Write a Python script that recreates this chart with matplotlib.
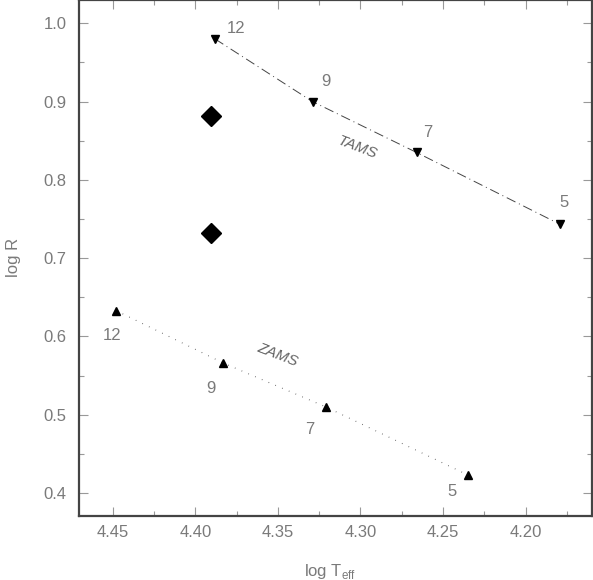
import numpy as np
import matplotlib.pyplot as plt
from matplotlib.ticker import MultipleLocator

plt.rcParams['font.family'] = ['Liberation Sans', 'DejaVu Sans']
plt.rcParams['mathtext.fontset'] = 'custom'
plt.rcParams['mathtext.rm'] = 'Liberation Sans'

# ZAMS / TAMS (массы в солнечных)
masses = ["12", "9", "7", "5"]
zams_logT = [4.448, 4.383, 4.321, 4.235]
zams_logR = [0.633, 0.566, 0.510, 0.423]
tams_logT = [4.388, 4.329, 4.266, 4.179]
tams_logR = [0.980, 0.900, 0.835, 0.743]

# наблюдаемые точки
obs_logT = [4.3905, 4.3905]
obs_logR = [0.881, 0.732]

# сдвиги подписей масс, в пикселях
tams_off = [(21, 10), (13, 20), (11, 20), (4, 22)]
zams_off = [(-4, -25), (-12, -25), (-16, -23), (-16, -17)]

gray = "#7a7a7a"

fig = plt.figure(figsize=(5.93, 5.80), dpi=100)
ax = fig.add_axes([0.1332, 0.1109, 0.8646, 0.8891])

ax.plot(tams_logT, tams_logR, color="#444444", lw=0.7, ls=(0, (10, 4, 1, 4)))
ax.plot(tams_logT, tams_logR, "v", color="black", ms=6)
ax.plot(zams_logT, zams_logR, color="#444444", lw=0.8, ls=(0, (0.6, 6)))
ax.plot(zams_logT, zams_logR, "^", color="black", ms=6)
ax.plot(obs_logT, obs_logR, "D", color="black", ms=10)

for m, xt, yt, off in zip(masses, tams_logT, tams_logR, tams_off):
    ax.annotate(m, (xt, yt), xytext=off, textcoords="offset pixels",
                color=gray, fontsize=12, ha="center", va="center")
for m, xz, yz, off in zip(masses, zams_logT, zams_logR, zams_off):
    ax.annotate(m, (xz, yz), xytext=off, textcoords="offset pixels",
                color=gray, fontsize=12, ha="center", va="center")

ax.text(4.302, 0.841, "TAMS", rotation=-21, color="#666666", fontsize=11,
        style="italic", ha="center", va="center")
ax.text(4.350, 0.577, "ZAMS", rotation=-21, color="#666666", fontsize=11,
        style="italic", ha="center", va="center")

ax.set_xlim(4.4704, 4.16)
ax.set_ylim(0.371, 1.0298)
ax.xaxis.set_major_locator(MultipleLocator(0.05))
ax.xaxis.set_minor_locator(MultipleLocator(0.025))
ax.yaxis.set_major_locator(MultipleLocator(0.1))
ax.yaxis.set_minor_locator(MultipleLocator(0.05))
ax.xaxis.set_major_formatter(plt.FormatStrFormatter("%.2f"))
ax.yaxis.set_major_formatter(plt.FormatStrFormatter("%.1f"))
ax.tick_params(which="both", direction="in", top=True, right=True,
               colors="#999999", labelcolor=gray, labelsize=12, width=0.8)
ax.tick_params(which="major", length=6.5)
ax.tick_params(which="minor", length=3.3)
ax.tick_params(axis="x", which="major", pad=7)
ax.tick_params(axis="y", which="major", pad=9)
for s in ax.spines.values():
    s.set_color("#444444")
    s.set_linewidth(1.6)

ax.set_xlabel(r"log T$_{\rm eff}$", color=gray, fontsize=12, va="center")
ax.set_ylabel("log R", color=gray, fontsize=12, va="center")
ax.xaxis.set_label_coords(0.49, -0.108)
ax.yaxis.set_label_coords(-0.127, 0.5)

plt.savefig("out.png", dpi=100)
